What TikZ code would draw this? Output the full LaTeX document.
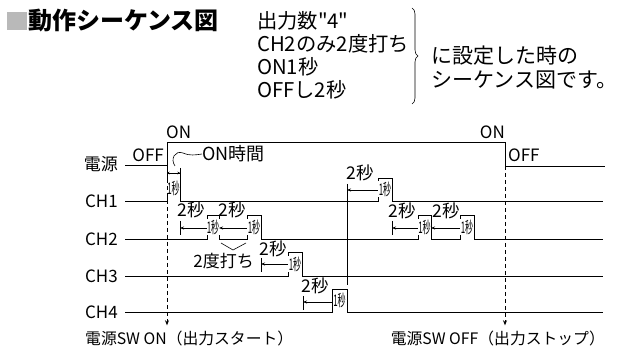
\documentclass[tikz,border=0pt]{standalone}
\usepackage{fontspec}
\usepackage{graphicx}
\usepackage{tikz}
\usetikzlibrary{arrows.meta, positioning, decorations.pathreplacing}
\setmainfont{Noto Sans CJK JP}[Ligatures=TeXOff]
\newcommand{\slimtxt}[1]{\scalebox{0.5}[1]{#1}}

\begin{document}
\begin{tikzpicture}[x=1pt,y=-1pt,
    sig/.style={line width=0.9pt},
    lbl/.style={font=\fontsize{17}{17}\selectfont,inner sep=0pt},
    swlbl/.style={font=\fontsize{15.8}{15.8}\selectfont,inner sep=0pt},
    head/.style={font=\fontsize{20.3}{20.3}\selectfont,inner sep=0pt,anchor=west},
    note/.style={font=\fontsize{21}{21}\selectfont,inner sep=0pt,anchor=west},
    twosec/.style={font=\fontsize{17.5}{17.5}\selectfont,inner sep=0pt},
    onesec/.style={font=\fontsize{16}{16}\selectfont,fill=white,inner sep=0.3pt},
    gap/.style={{Stealth[length=4pt,width=3pt]}-,line width=0.6pt},
    tick/.style={line width=0.6pt},
    swline/.style={dash pattern=on 4pt off 3pt,line width=0.7pt,
                   -{Stealth[length=5pt,width=4pt]},shorten >=5pt}
  ]
  \useasboundingbox (0,0) rectangle (622,352);

  % header
  \fill[gray!55] (7,12) rectangle (27,30);
  \node[anchor=west,inner sep=0pt,font=\fontsize{24}{24}\selectfont\bfseries] (title) at (28,21) {動作シーケンス図};
  \node[head] (cnt)  at (257,21) {出力数"4"};
  \node[head] (twice) at (257,44) {CH2のみ2度打ち};
  \node[head] (ontm)  at (257,67) {ON1秒};
  \node[head] (offtm) at (257,90) {OFFし2秒};
  \draw[line width=0.6pt,decorate,decoration={brace,amplitude=6pt}] (412,8) -- (412,104);
  \node[note] (note1) at (431,56) {に設定した時の};
  \node[note] (note2) at (431,80) {シーケンス図です。};

  % row labels
  \node[lbl,anchor=east] (lpwr) at (118,164) {電源};
  \node[lbl,anchor=east] (lch1) at (118,201) {CH1};
  \node[lbl,anchor=east] (lch2) at (118,239) {CH2};
  \node[lbl,anchor=east] (lch3) at (118,276) {CH3};
  \node[lbl,anchor=east] (lch4) at (118,312) {CH4};

  % power line
  \coordinate (pwron) at (167,165);
  \coordinate (pwroff) at (505,166);
  \draw[sig] (125,165) -- (pwron) -- (167,142) -- (505,142) -- (pwroff) -- (605,166);
  \node[lbl,anchor=south west] (on1) at (166,139) {ON};
  \node[lbl,anchor=south east] (on2) at (505,139) {ON};
  \node[lbl,anchor=south east] (off1) at (164,162) {OFF};
  \node[lbl,anchor=south west] (off2) at (508,162) {OFF};

  % channels
  \draw[sig] (125,201) -- (167,201) -- (167,173) -- (180,173) -- (180,201)
    -- (378,201) -- (378,178) -- (392,178) -- (392,201) -- (603,201);
  \draw[sig] (125,239) -- (207,239) -- (207,215) -- (219,215) -- (219,239)
    -- (247,239) -- (247,215) -- (261,215) -- (261,239)
    -- (418,239) -- (418,215) -- (431,215) -- (431,239)
    -- (460,239) -- (460,215) -- (474,215) -- (474,239) -- (603,239);
  \draw[sig] (125,276) -- (288,276) -- (288,252) -- (302,252) -- (302,276) -- (603,276);
  \draw[sig] (125,312) -- (332,312) -- (332,289) -- (347,289) -- (347,312) -- (603,312);

  % ON time
  \draw[tick] (167,168) -- (167,178);
  \draw[tick] (180,168) -- (180,178);
  \draw[{Stealth[length=2.5pt,width=2.5pt]}-{Stealth[length=2.5pt,width=2.5pt]},line width=0.6pt] (167,173) -- (180,173);
  \node[lbl,anchor=west,font=\fontsize{18}{18}\selectfont] (ontime) at (202,154) {ON時間};
  \draw[tick] (175,166) .. controls (170,159) and (175,150) .. (183,153)
    .. controls (190,156) and (195,155) .. (ontime.west);

  % 1 sec labels
  \node[onesec] (p11) at (173.5,188) {\slimtxt{1秒}};
  \node[onesec] (p12) at (385,189) {\slimtxt{1秒}};
  \node[onesec] (p21) at (213,227) {\slimtxt{1秒}};
  \node[onesec] (p22) at (254,227) {\slimtxt{1秒}};
  \node[onesec] (p23) at (424.5,227) {\slimtxt{1秒}};
  \node[onesec] (p24) at (467,227) {\slimtxt{1秒}};
  \node[onesec] (p31) at (295,264) {\slimtxt{1秒}};
  \node[onesec] (p41) at (339.5,300) {\slimtxt{1秒}};

  % 2 sec gaps
  \draw[tick] (180,221) -- (180,235);
  \draw[gap] (180,228) -- (207,228);
  \node[twosec] (g21) at (191,210) {2秒};
  \draw[gap] (219,228) -- (247,228);
  \node[twosec] (g22) at (232,210) {2秒};
  \draw[tick] (261,258) -- (261,272);
  \draw[gap] (261,264) -- (288,264);
  \node[twosec] (g31) at (273,249) {2秒};
  \draw[tick] (303,296) -- (303,310);
  \draw[gap] (303,302) -- (332,302);
  \node[twosec] (g41) at (315,286) {2秒};
  \draw[tick] (347,184) -- (347,285);
  \draw[gap] (347,190) -- (378,190);
  \node[twosec] (g12) at (360,173) {2秒};
  \draw[tick] (392,221) -- (392,235);
  \draw[gap] (392,228) -- (418,228);
  \node[twosec] (g23) at (402,211) {2秒};
  \draw[gap] (431,228) -- (460,228);
  \node[twosec] (g24) at (446,211) {2秒};

  % double shot mark
  \draw[tick] (221,243) -- (233,250) -- (246,243);
  \node[lbl,anchor=east] (dbl) at (254,261) {2度打ち};

  % switch markers
  \node[swlbl,anchor=west] (swon) at (85,338) {電源SW ON（出力スタート）};
  \node[swlbl,anchor=east] (swoff) at (605,338) {電源SW OFF（出力ストップ）};
  \draw[swline] (pwron) -- (pwron |- swon.north);
  \draw[swline] (pwroff) -- (pwroff |- swoff.north);
\end{tikzpicture}
\end{document}
